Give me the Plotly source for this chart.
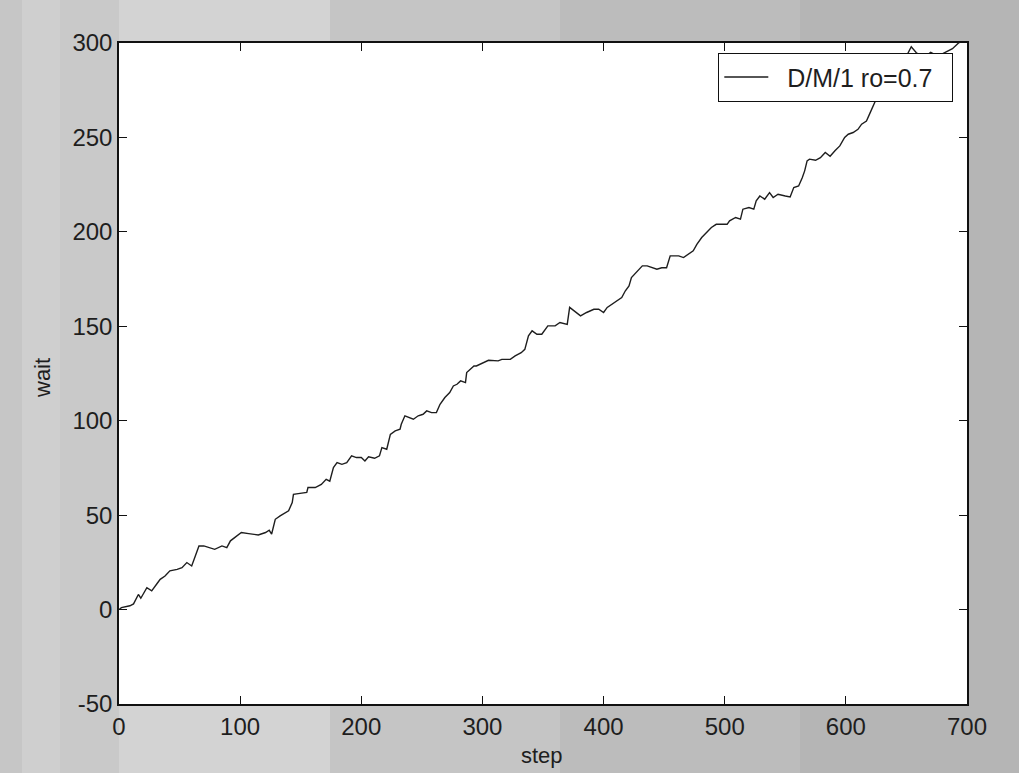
import plotly.graph_objects as go

# Simulated D/M/1 queue: waiting time versus step (rho = 0.7)
step = [0, 2, 9, 12, 16, 18, 23, 27, 31, 34, 38, 42, 48, 52, 56, 60, 63, 66, 70, 74,
        79, 85, 89, 92, 97, 101, 107, 115, 121, 124, 126, 128, 129, 133, 137, 140, 143, 144,
        148, 155, 156, 162, 167, 171, 174, 177, 180, 184, 188, 192, 196, 200, 203, 206,
        211, 215, 217, 221, 224, 228, 232, 233, 236, 240, 243, 247, 251, 254, 258, 262,
        265, 269, 273, 276, 279, 282, 286, 287, 290, 293, 295, 301, 305, 313, 316, 323,
        327, 332, 335, 338, 341, 345, 349, 354, 360, 364, 370, 372, 376, 381, 386, 392,
        396, 400, 403, 407, 411, 415, 418, 421, 423, 427, 432, 436, 440, 444, 448, 452,
        455, 462, 466, 470, 474, 477, 481, 485, 489, 493, 497, 502, 504, 509, 513, 515,
        520, 524, 526, 529, 533, 537, 540, 544, 550, 554, 557, 561, 564, 566, 568, 570,
        575, 579, 583, 587, 591, 595, 599, 602, 606, 610, 613, 617, 620, 623, 625, 628,
        631, 636, 641, 646, 650, 654, 658, 664, 670, 676, 682, 688, 693, 696]
wait = [0, 1, 2, 3, 8, 6, 11.6, 9.9, 13.4, 16, 17.8, 20.5, 21.3, 22.2, 24.9, 23.1, 28.4,
        33.7, 33.7, 32.8, 31.9, 33.7, 32.8, 36.4, 39, 40.8, 40.2, 39.5, 40.8, 42, 40, 46,
        47.8, 49.6, 51.4, 52.3, 56.7, 61, 61.4, 62, 64.6, 64.6, 66.3, 69, 68, 75.2, 77.8,
        76.9, 77.8, 81.4, 80.5, 80.5, 78.7, 80.9, 80.1, 81.4, 85.8, 84.9, 92.8, 94.6, 95.5,
        98.1, 102.6, 101.7, 100.8, 102.6, 103.4, 105.2, 104.3, 104.3, 108.7, 112.3, 114.9,
        118.4, 119.3, 121.1, 120.2, 125.5, 127.2, 129, 129, 130.8, 132, 131.7, 132.5, 132.5,
        134.3, 136, 137.8, 144.9, 147.6, 145.8, 145.8, 150.2, 150.2, 152, 151, 160, 158.2,
        155.5, 157.3, 159, 159, 157.3, 160, 161.7, 163.5, 165.2, 168.8, 171.4, 175.8, 178.4,
        182, 182, 181, 180.2, 181, 181, 187.3, 187.3, 186.4, 188, 190, 193.4, 197, 199.6,
        202.3, 204, 204, 204, 205.8, 207.6, 206.7, 212, 212.9, 212, 216.4, 219, 217.3, 220.8,
        218.2, 219.9, 219, 218.5, 223.5, 224.3, 228.7, 232.3, 237.6, 238.5, 237.9, 239.3,
        242, 240, 242.9, 245.5, 250, 251.7, 252.6, 254.3, 257, 258.7, 263, 267.6, 270.2,
        273.8, 274.6, 279, 283, 288, 293, 298, 295, 292, 295, 293, 295, 297, 300, 301]

x_ticks = [0, 100, 200, 300, 400, 500, 600, 700]
x_tick_text = ["0", "100", "200", "300", "400", "500", "600", "700"]
y_ticks = [-50, 0, 50, 100, 150, 200, 250, 300]
y_tick_text = ["-50", "0", "50", "100", "150", "200", "250", "300"]
series_name = "D/M/1 ro=0.7"

FONT = "Liberation Sans, Arial, sans-serif"
INK = "#1e1e1e"

# plot area in pixels (for the backdrop bands)
L, R, T, B = 119, 967, 43, 704
W, H = 1019, 773


def px_x(p):
    return (p - L) / (R - L)


def px_y(p):
    return (B - p) / (B - T)


# greyish backdrop, lighter on the left, darker on the right
bands = [(0, 22, "#c6c6c6"), (22, 60, "#cfcfcf"), (60, 119, "#c9c9c9"),
         (119, 330, "#d3d3d3"), (330, 560, "#c5c5c5"), (560, 800, "#bcbcbc"),
         (800, 1019, "#b5b5b5")]
shapes = []
for x0, x1, c in bands:
    shapes.append(dict(type="rect", xref="paper", yref="paper", layer="below",
                       x0=px_x(x0), x1=px_x(x1), y0=px_y(H), y1=px_y(0),
                       line=dict(width=0), fillcolor=c))
# white plotting area on top of the backdrop
shapes.append(dict(type="rect", xref="paper", yref="paper", layer="below",
                   x0=0, x1=1, y0=0, y1=1, line=dict(width=0), fillcolor="#ffffff"))

fig = go.Figure()
fig.add_trace(go.Scatter(x=step, y=wait, mode="lines",
                         name="\u00a0\u00a0" + series_name + "\u00a0\u00a0",
                         line=dict(color=INK, width=1.4), showlegend=True))

axis_common = dict(showline=True, linecolor="#111", linewidth=1.5, mirror="ticks",
                   ticks="inside", ticklen=8, tickwidth=1.3, tickcolor="#111",
                   showgrid=False, zeroline=False,
                   tickfont=dict(family=FONT, size=24, color=INK))

fig.update_xaxes(range=[0, 700], tickvals=x_ticks, ticktext=x_tick_text, **axis_common)
fig.update_yaxes(range=[-50, 300], tickvals=y_ticks, ticktext=y_tick_text, **axis_common)

fig.update_layout(
    width=W, height=H,
    margin=dict(l=L, r=W - R, t=T, b=H - B, pad=0),
    paper_bgcolor="#c4c4c4", plot_bgcolor="#ffffff",
    shapes=shapes,
    legend=dict(x=px_x(953), y=px_y(53), xanchor="right", yanchor="top",
                bgcolor="#ffffff", bordercolor="#111", borderwidth=1.3,
                font=dict(family=FONT, size=25, color=INK),
                itemwidth=44, tracegroupgap=0),
    annotations=[
        dict(text="step", xref="paper", yref="paper", x=px_x(542), y=px_y(755),
             showarrow=False, font=dict(family=FONT, size=22, color=INK),
             xanchor="center", yanchor="middle"),
        dict(text="wait", xref="paper", yref="paper", x=px_x(42), y=px_y(378),
             showarrow=False, textangle=-90, font=dict(family=FONT, size=22, color=INK),
             xanchor="center", yanchor="middle"),
    ],
)

fig.write_html("out.html")
